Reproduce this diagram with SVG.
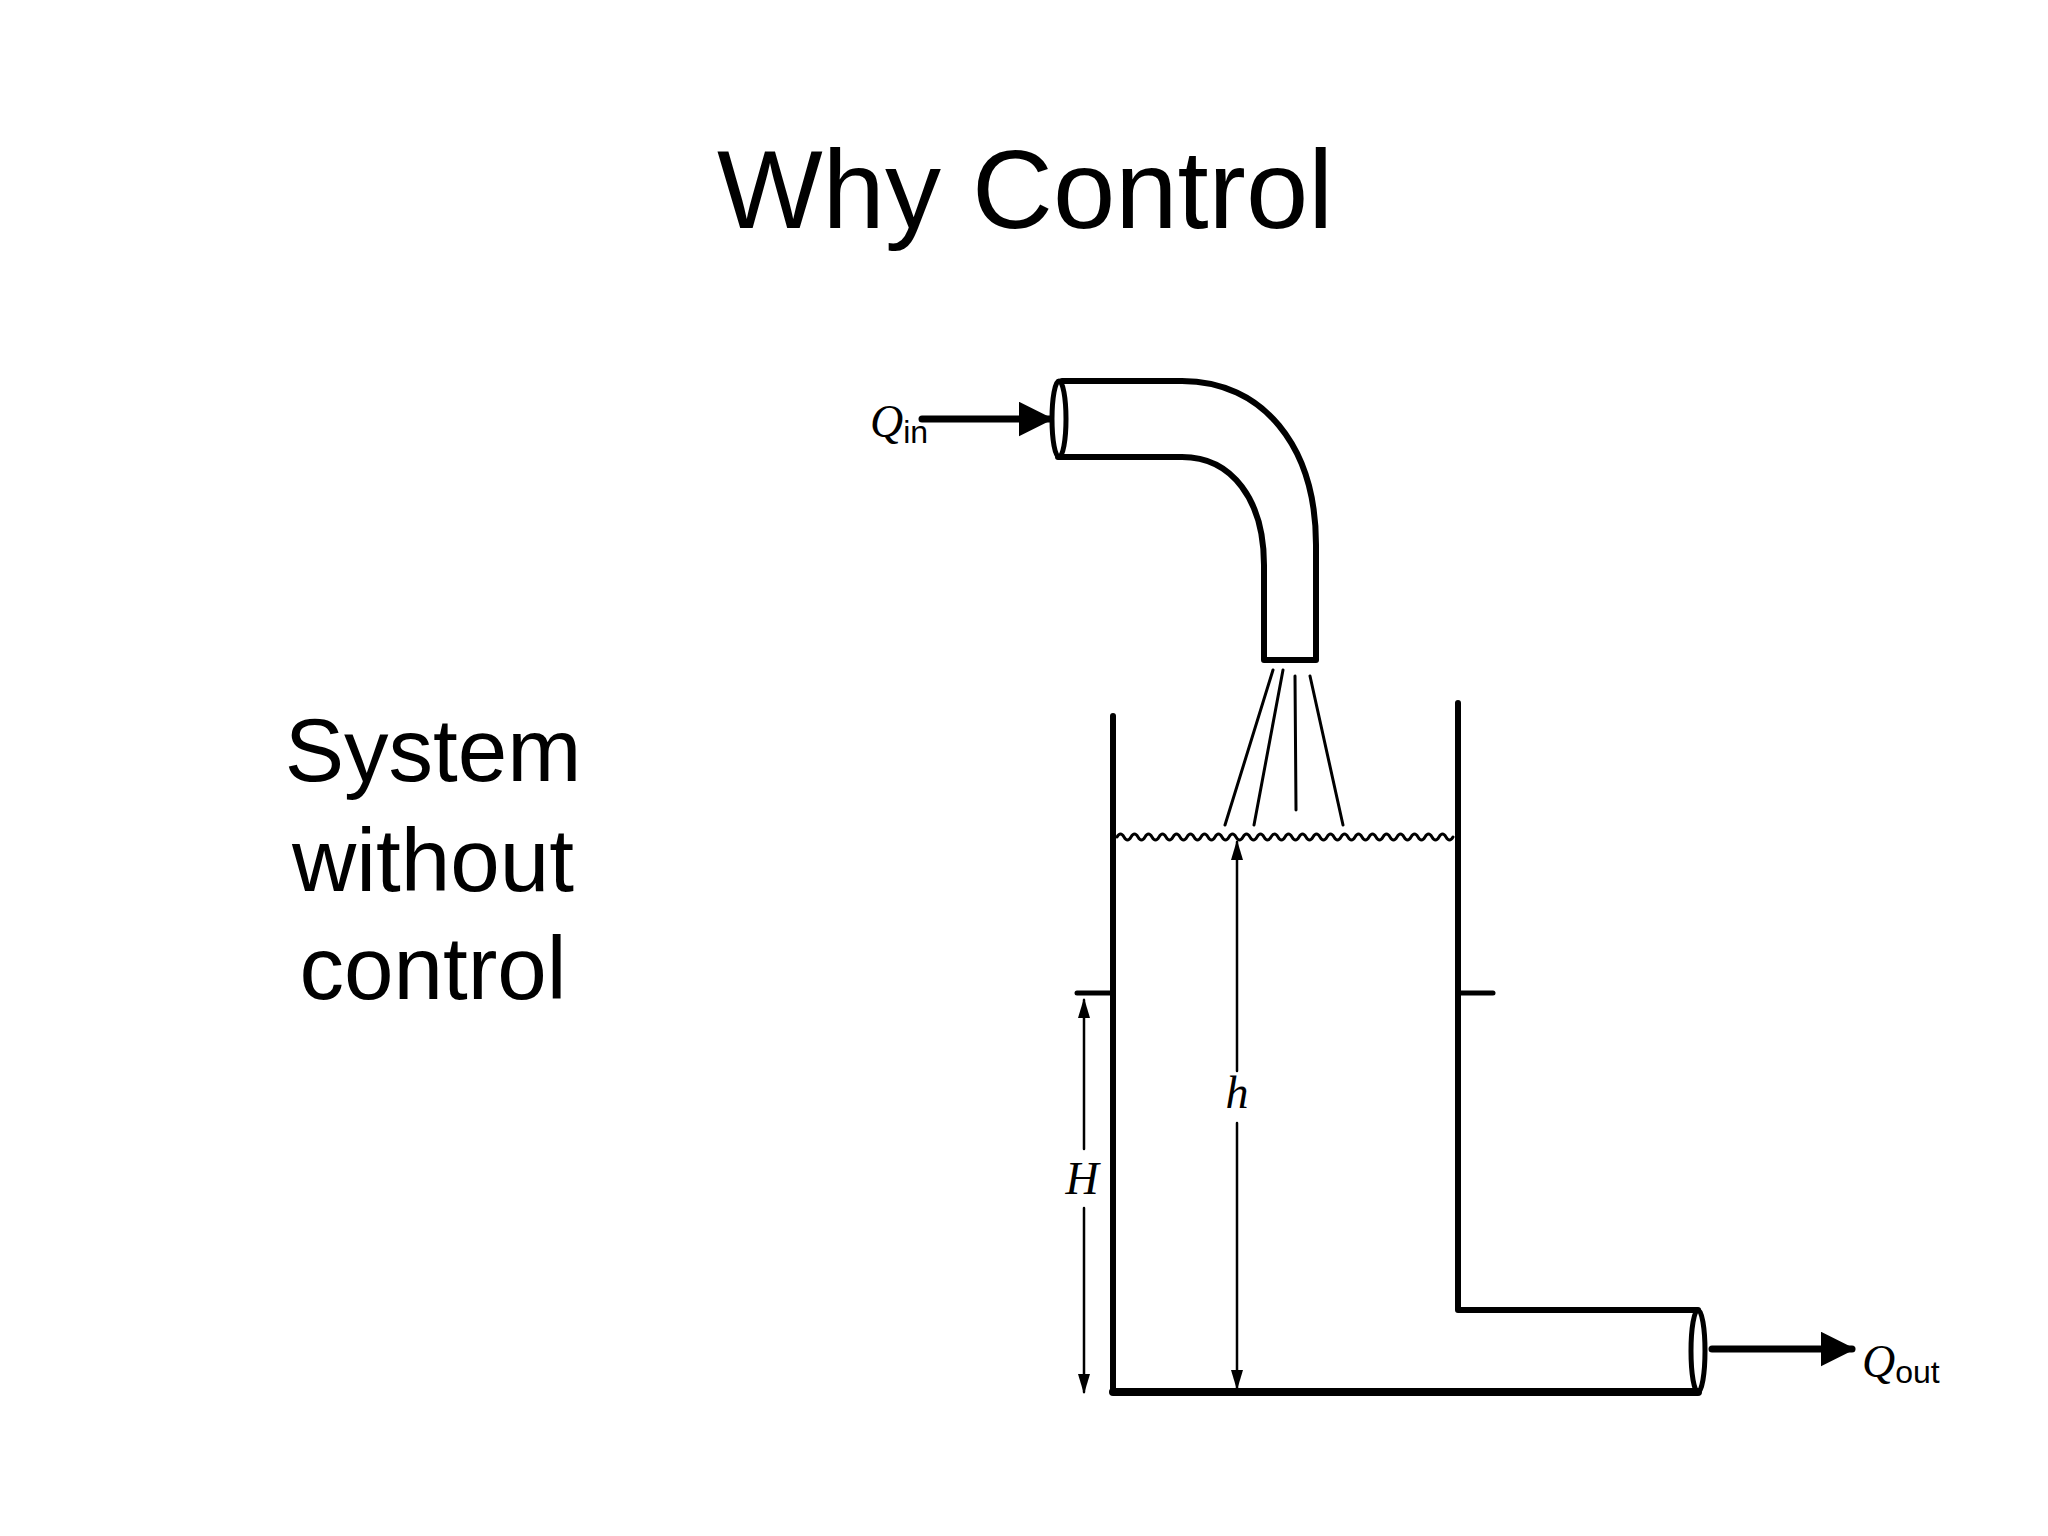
<svg xmlns="http://www.w3.org/2000/svg" width="2048" height="1536" viewBox="0 0 2048 1536">
<style>
.t{font-family:"Liberation Sans",Arial,sans-serif;fill:#000}
.s{stroke:#000;fill:none;stroke-linecap:round;stroke-linejoin:round}
.q{font-family:"Liberation Serif",serif;font-style:italic;font-size:46px}
.sub{font-family:"Liberation Sans",sans-serif;font-size:32px}
</style>
<defs>
<marker id="a" viewBox="0 0 10 10" refX="9" refY="5" markerWidth="5" markerHeight="5" orient="auto" markerUnits="strokeWidth"><path d="M0,0 L10,5 L0,10 z" fill="#000"/></marker>
<marker id="d" viewBox="0 0 10 10" refX="9" refY="5" markerWidth="8" markerHeight="8" orient="auto-start-reverse" markerUnits="strokeWidth"><path d="M0,2 L10,5 L0,8 z" fill="#000"/></marker>
</defs>
<rect width="2048" height="1536" fill="#fff"/>
<text class="t" x="1025" y="228" font-size="112" text-anchor="middle">Why Control</text>
<text class="t" font-size="89" text-anchor="middle"><tspan x="433" y="781">System</tspan><tspan x="433" y="891">without</tspan><tspan x="433" y="999">control</tspan></text>
<g id="pipe-in">
<path class="s" stroke-width="6" d="M1062,381 L1182,381 C1262,381 1316,445 1316,545 L1316,660 L1264,660 L1264,565 C1264,500 1232,457 1182,457 L1058,457"/>
<ellipse class="s" stroke-width="5" cx="1059" cy="419" rx="7" ry="38"/>
</g>
<g id="spray" class="s" stroke-width="3">
<line x1="1273" y1="670" x2="1225" y2="825"/>
<line x1="1283" y1="670" x2="1254" y2="825"/>
<line x1="1295" y1="676" x2="1296" y2="810"/>
<line x1="1310" y1="676" x2="1343" y2="825"/>
</g>
<g id="tank">
<path class="s" stroke-width="6" d="M1113,716 L1113,1392"/>
<path class="s" stroke-width="8" d="M1113,1392 L1698,1392"/>
<path class="s" stroke-width="6" d="M1458,703 L1458,1310 L1698,1310"/>
<ellipse class="s" stroke-width="5" cx="1698" cy="1351" rx="7" ry="41"/>
<line class="s" stroke-width="5" x1="1077" y1="993" x2="1113" y2="993"/>
<line class="s" stroke-width="5" x1="1458" y1="993" x2="1493" y2="993"/>
<path class="s" stroke-width="3" d="M1117,837 q3.5 -6 7 0 t7 0 t7 0 t7 0 t7 0 t7 0 t7 0 t7 0 t7 0 t7 0 t7 0 t7 0 t7 0 t7 0 t7 0 t7 0 t7 0 t7 0 t7 0 t7 0 t7 0 t7 0 t7 0 t7 0 t7 0 t7 0 t7 0 t7 0 t7 0 t7 0 t7 0 t7 0 t7 0 t7 0 t7 0 t7 0 t7 0 t7 0 t7 0 t7 0 t7 0 t7 0 t7 0 t7 0 t7 0 t7 0 t7 0 t7 0"/>
</g>
<g id="connectors">
<line class="s" stroke-width="7" x1="922" y1="419" x2="1050" y2="419" marker-end="url(#a)"/>
<line class="s" stroke-width="7" x1="1712" y1="1349" x2="1852" y2="1349" marker-end="url(#a)"/>
<line class="s" stroke-width="2.5" x1="1084" y1="1000" x2="1084" y2="1149" marker-start="url(#d)"/>
<line class="s" stroke-width="2.5" x1="1084" y1="1208" x2="1084" y2="1392" marker-end="url(#d)"/>
<line class="s" stroke-width="2.5" x1="1237" y1="842" x2="1237" y2="1071" marker-start="url(#d)"/>
<line class="s" stroke-width="2.5" x1="1237" y1="1123" x2="1237" y2="1388" marker-end="url(#d)"/>
</g>
<g id="labels">
<text x="870" y="437"><tspan class="q">Q</tspan><tspan class="sub" dy="6">in</tspan></text>
<text x="1862" y="1377"><tspan class="q">Q</tspan><tspan class="sub" dy="6">out</tspan></text>
<text class="q" x="1082" y="1194" font-size="38" text-anchor="middle">H</text>
<text class="q" x="1237" y="1108" font-size="38" text-anchor="middle">h</text>
</g>
</svg>
